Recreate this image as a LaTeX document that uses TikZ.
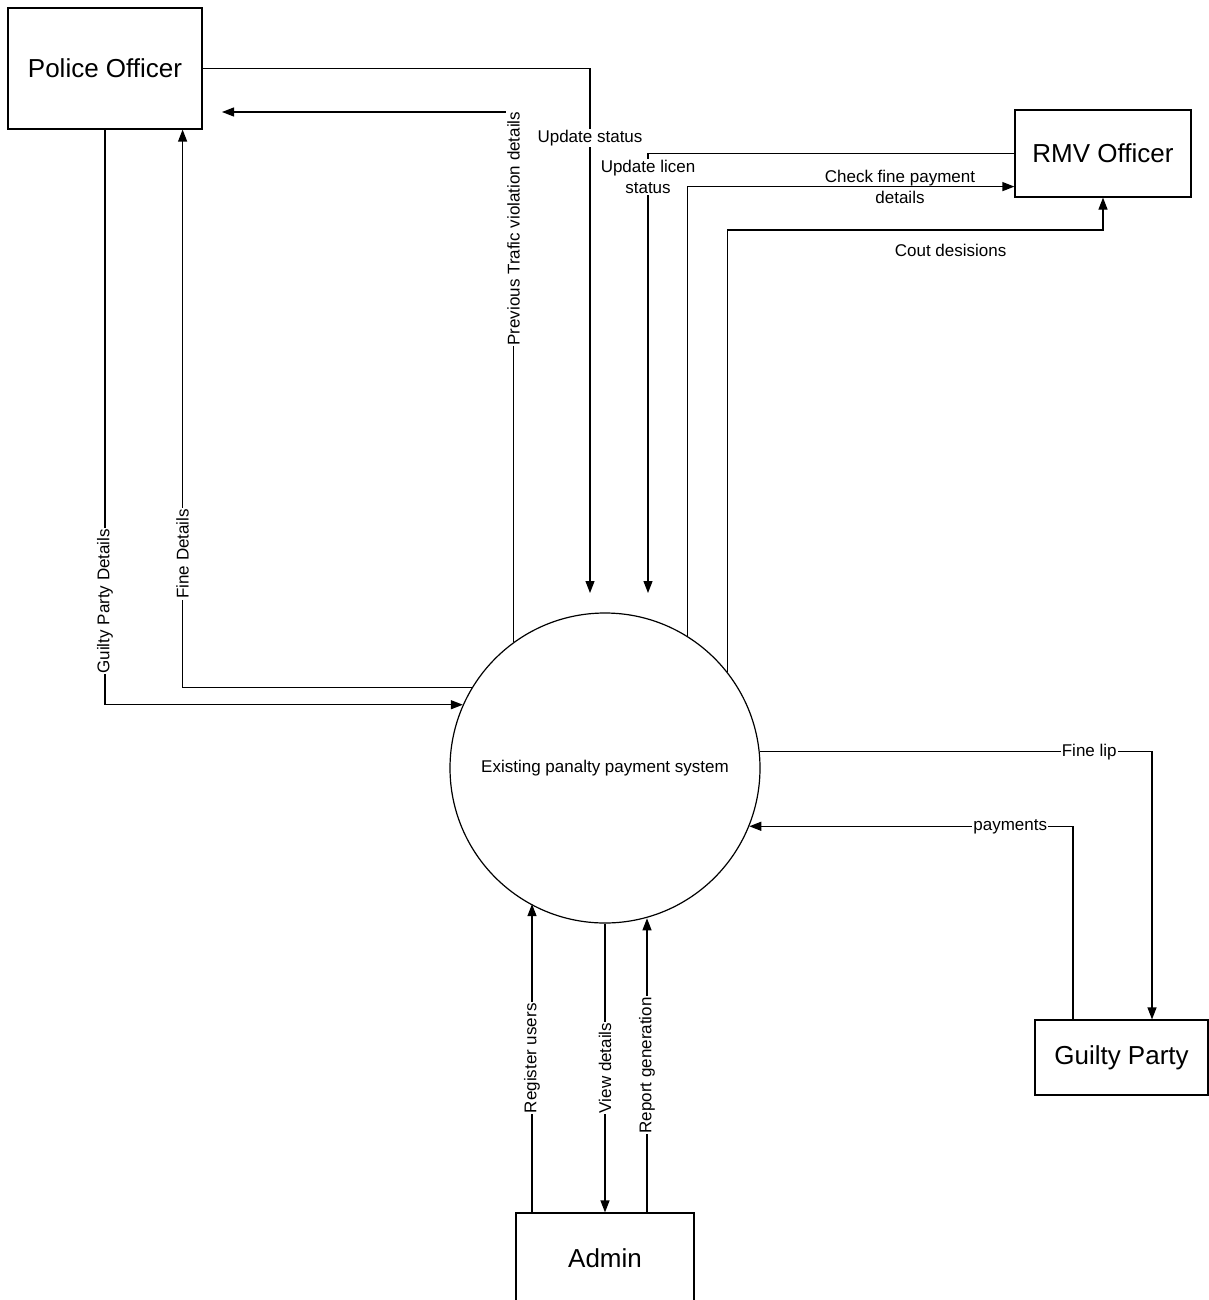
\documentclass[tikz,border=0pt]{standalone}
\usepackage{fontspec}
\setmainfont{Liberation Sans}
\usetikzlibrary{arrows.meta,calc}

\tikzset{
  entity/.style={draw, line width=1.2pt, inner sep=0pt, font=\fontsize{26}{30}\selectfont},
  process/.style={draw, circle, line width=1.2pt, minimum size=310pt, inner sep=0pt, font=\fontsize{17}{20}\selectfont},
  flow/.style={line width=1.2pt, -{Triangle[length=12pt,width=9pt]}},
  lbl/.style={fill=white, inner sep=1pt, font=\fontsize{17}{21}\selectfont},
  vlbl/.style={lbl, rotate=90},
  twoline/.style={inner sep=0pt, align=center, font=\fontsize{17}{21}\selectfont},
}

\begin{document}
\begin{tikzpicture}[x=1pt,y=-1pt]

% ---------- Rahmen (Bildgroesse) ----------
\useasboundingbox (0,0) rectangle (1209,1300);

% ---------- Entitaeten ----------
\node[entity, minimum width=194pt, minimum height=121pt] (pol) at (105,68.5) {Police Officer};
\node[entity, minimum width=176pt, minimum height=87pt]  (rmv) at (1103,153.5) {RMV Officer};
\node[entity, minimum width=173pt, minimum height=75pt]  (gp)  at (1121.5,1057.5) {Guilty Party};
\node[entity, minimum width=178pt, minimum height=90pt]  (adm) at (605,1258) {Admin};

% Prozess
\node[process] (sys) at (605,768) {Existing panalty payment system};

% freie Enden / Knickpunkte
\coordinate (ustip) at (590,593);
\coordinate (ultip) at (648,593);
\coordinate (pvtip) at (222,112);
\coordinate (coutc) at (1103,230);
\coordinate (rgs) at ([xshift=-73pt]adm.north);
\coordinate (rpg) at ([xshift=42pt]adm.north);

% ===================
% Police Officer
% ===================
\draw[flow] (pol.east) -| node[lbl, pos=0.566] {Update status} (ustip);
\draw[flow] (pol.south) |- node[vlbl, pos=0.41] {Guilty Party Details} (sys.156.8);
\draw[flow] (sys.149.8) -| node[vlbl, pos=0.62] {Fine Details} ([xshift=-20pt]pol.south east);
\draw[flow] (sys.126.9) |- node[vlbl, pos=0.39] {Previous Trafic violation details} (pvtip);

% ===================
% RMV Officer
% ===================
\draw[flow] (rmv.west) -| node[lbl, align=center, pos=0.527] {Update licen\\status} (ultip);
\draw[flow] (sys.58.5) |- node[twoline, pos=0.825] {Check fine payment\\details} ([yshift=11pt]rmv.south west);
\draw[flow] (sys.38.1) |- node[lbl, pos=0.797, yshift=-20pt] {Cout desisions} (coutc) -- (rmv.south);

% ===================
% Guilty Party
% ===================
\draw[flow] (sys.6.3) -| node[lbl, pos=0.42] {Fine lip} ([xshift=30.5pt]gp.north);
\draw[flow] ([xshift=-48.5pt]gp.north) |- node[lbl, pos=0.597] {payments} (sys.-22.4);

% ===================
% Admin
% ===================
\draw[flow] (rgs) -- node[vlbl] {Register users} (rgs |- sys.241.5);
\draw[flow] (sys.south) -- node[vlbl] {View details} (adm.north);
\draw[flow] (rpg) -- node[vlbl] {Report generation} (rpg |- sys.285.7);

\end{tikzpicture}
\end{document}
